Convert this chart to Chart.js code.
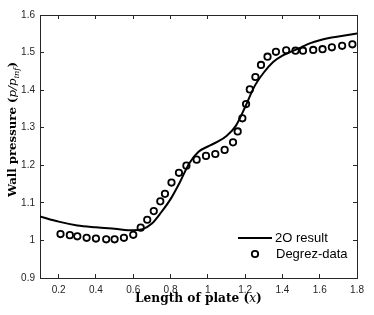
<!DOCTYPE html>
<html>
<head>
<meta charset="utf-8">
<script src="https://cdn.jsdelivr.net/npm/chart.js@4.4.1/dist/chart.umd.min.js"></script>
<style>
  html, body { margin: 0; padding: 0; background: #fff; }
  #wrap { width: 374px; height: 315px; }
</style>
</head>
<body>
<div id="wrap"><canvas id="chart"></canvas></div>
<script>
// 2O result (solid line)
const lineX = [0.1, 0.2, 0.3, 0.4, 0.5, 0.6, 0.65, 0.7, 0.75, 0.8, 0.85, 0.9, 0.95, 1.0, 1.05, 1.1, 1.15, 1.2, 1.25, 1.3, 1.35, 1.4, 1.45, 1.5, 1.55, 1.6, 1.65, 1.7, 1.75, 1.8];
const lineY = [1.064, 1.05, 1.04, 1.035, 1.031, 1.027, 1.030, 1.045, 1.075, 1.11, 1.155, 1.205, 1.236, 1.25, 1.262, 1.278, 1.305, 1.355, 1.41, 1.447, 1.475, 1.492, 1.503, 1.514, 1.525, 1.533, 1.539, 1.543, 1.547, 1.551];

// Degrez-data (circles)
const dataX = [0.21, 0.26, 0.30, 0.35, 0.40, 0.455, 0.50, 0.55, 0.60, 0.64, 0.675, 0.71, 0.745, 0.77, 0.805, 0.845, 0.885, 0.94, 0.99, 1.04, 1.09, 1.135, 1.16, 1.185, 1.205, 1.225, 1.255, 1.285, 1.32, 1.365, 1.42, 1.47, 1.51, 1.565, 1.615, 1.665, 1.72, 1.775];
const dataY = [1.017, 1.014, 1.011, 1.007, 1.005, 1.003, 1.003, 1.007, 1.015, 1.034, 1.055, 1.078, 1.104, 1.124, 1.154, 1.18, 1.199, 1.215, 1.225, 1.23, 1.241, 1.261, 1.29, 1.325, 1.363, 1.402, 1.435, 1.467, 1.489, 1.502, 1.506, 1.505, 1.505, 1.507, 1.509, 1.514, 1.518, 1.522];

const xTicks = [0.2, 0.4, 0.6, 0.8, 1, 1.2, 1.4, 1.6, 1.8];
const yTicks = [0.9, 1, 1.1, 1.2, 1.3, 1.4, 1.5, 1.6];

const tickColor = '#262626';

// inward tick marks + box edge, drawn by the scales themselves
const inwardGrid = { display: true, drawOnChartArea: false, drawTicks: true, tickLength: -4, color: tickColor, lineWidth: 1 };
const boxBorder = { display: true, color: tickColor, width: 1 };

// axis titles and legend
const extras = {
  id: 'extras',
  afterDraw(chart) {
    const ctx = chart.ctx;
    const a = chart.chartArea;
    ctx.save();

    // axis titles with math parts, sized to the target width
    ctx.fillStyle = '#000';
    ctx.textBaseline = 'alphabetic';
    const drawParts = (parts, cx, cy, target) => {
      const measure = s => {
        let w = 0;
        parts.forEach(p => { ctx.font = p[1](s); w += ctx.measureText(p[0]).width; });
        return w;
      };
      const size = 13 * target / measure(13);
      let x = cx - target / 2;
      parts.forEach(p => {
        ctx.font = p[1](size);
        ctx.fillText(p[0], x, cy + (p[2] || 0));
        x += ctx.measureText(p[0]).width;
      });
    };
    const bold = s => `bold ${s}px "DejaVu Serif"`;
    const ital = s => `italic ${s}px "DejaVu Serif"`;
    const sub = s => `italic ${s * 0.7}px "DejaVu Serif"`;
    drawParts([['Length of plate (', bold], ['x', ital], [')', bold]], (a.left + a.right) / 2, 302, 127);

    ctx.save();
    ctx.translate(16, 129.5);
    ctx.rotate(-Math.PI / 2);
    drawParts([['Wall pressure (', bold], ['p/p', ital], ['inf', sub, 3], [')', bold]], 0, 0, 135);
    ctx.restore();

    // legend
    const ds0 = chart.data.datasets[0], ds1 = chart.data.datasets[1];
    ctx.font = '13px "Liberation Sans"';
    ctx.fillStyle = '#000';
    ctx.textBaseline = 'middle';
    ctx.strokeStyle = ds0.borderColor;
    ctx.lineWidth = ds0.borderWidth;
    ctx.beginPath();
    ctx.moveTo(238, 238); ctx.lineTo(272, 238);
    ctx.stroke();
    ctx.fillText('2O result', 275, 238.5);
    ctx.strokeStyle = ds1.borderColor;
    ctx.lineWidth = ds1.borderWidth;
    ctx.beginPath();
    ctx.arc(255, 254, ds1.pointRadius, 0, Math.PI * 2);
    ctx.stroke();
    ctx.fillText('Degrez-data', 276, 254.5);
    ctx.restore();
  }
};

new Chart(document.getElementById('chart'), {
  type: 'scatter',
  data: {
    datasets: [
      {
        label: '2O result',
        type: 'line',
        data: lineX.map((x, i) => ({ x, y: lineY[i] })),
        borderColor: '#000',
        borderWidth: 2,
        pointRadius: 0,
        cubicInterpolationMode: 'monotone',
        fill: false
      },
      {
        label: 'Degrez-data',
        data: dataX.map((x, i) => ({ x, y: dataY[i] })),
        borderColor: '#000',
        backgroundColor: 'rgba(0,0,0,0)',
        borderWidth: 1.8,
        pointRadius: 3.2
      }
    ]
  },
  options: {
    responsive: true,
    maintainAspectRatio: false,
    animation: false,
    layout: { padding: { top: -5.5, right: 8, left: 0, bottom: 0 } },
    plugins: { legend: { display: false }, tooltip: { enabled: false } },
    scales: {
      x: {
        type: 'linear',
        position: 'bottom',
        min: 0.1, max: 1.8,
        afterBuildTicks: s => { s.ticks = xTicks.map(v => ({ value: v })); },
        afterFit: s => { s.height = 37; },
        grid: inwardGrid,
        border: boxBorder,
        ticks: {
          color: tickColor,
          font: { family: 'Liberation Sans', size: 10 },
          padding: 10,
          maxRotation: 0,
          callback: v => String(Math.round(v * 10) / 10)
        }
      },
      x2: {
        type: 'linear',
        position: 'top',
        min: 0.1, max: 1.8,
        afterBuildTicks: s => { s.ticks = xTicks.map(v => ({ value: v })); },
        afterFit: s => { s.height = 0; },
        grid: inwardGrid,
        border: boxBorder,
        ticks: { display: false }
      },
      y: {
        position: 'left',
        min: 0.9, max: 1.6,
        afterBuildTicks: s => { s.ticks = yTicks.map(v => ({ value: v })); },
        afterFit: s => { s.width = 40; },
        grid: inwardGrid,
        border: boxBorder,
        ticks: {
          color: tickColor,
          font: { family: 'Liberation Sans', size: 10 },
          padding: 9,
          callback: v => String(Math.round(v * 10) / 10)
        }
      },
      y2: {
        position: 'right',
        min: 0.9, max: 1.6,
        afterBuildTicks: s => { s.ticks = yTicks.map(v => ({ value: v })); },
        afterFit: s => { s.width = 0; },
        grid: inwardGrid,
        border: boxBorder,
        ticks: { display: false }
      }
    }
  },
  plugins: [extras]
});
</script>
</body>
</html>
